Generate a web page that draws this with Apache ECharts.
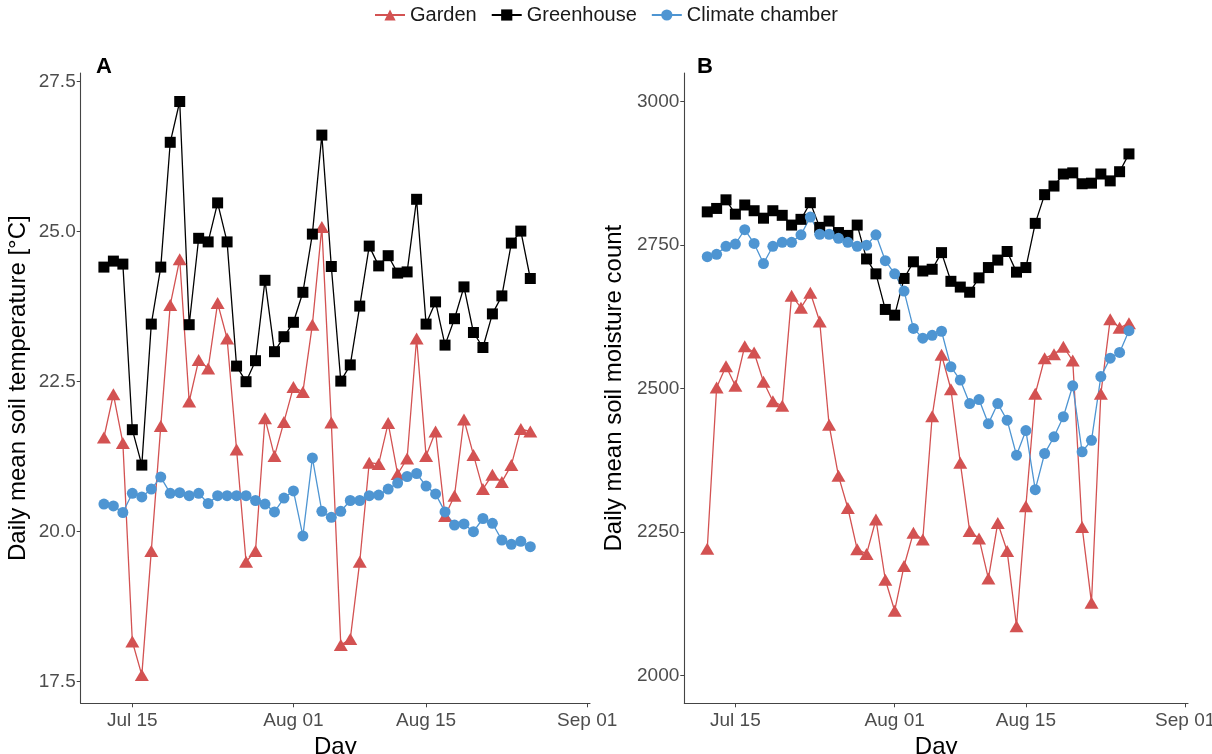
<!DOCTYPE html>
<html>
<head>
<meta charset="utf-8">
<script src="https://cdn.jsdelivr.net/npm/echarts@6/dist/echarts.min.js"></script>
<style>
  html, body { margin: 0; padding: 0; background: #fff; }
  #chart { width: 1212px; height: 754px; }
</style>
</head>
<body>
<div id="chart"></div>
<script>
// days of measurement
var dates = [
  '2021-07-12','2021-07-13','2021-07-14','2021-07-15','2021-07-16','2021-07-17','2021-07-18','2021-07-19',
  '2021-07-20','2021-07-21','2021-07-22','2021-07-23','2021-07-24','2021-07-25','2021-07-26','2021-07-27',
  '2021-07-28','2021-07-29','2021-07-30','2021-07-31','2021-08-01','2021-08-02','2021-08-03','2021-08-04',
  '2021-08-05','2021-08-06','2021-08-07','2021-08-08','2021-08-09','2021-08-10','2021-08-11','2021-08-12',
  '2021-08-13','2021-08-14','2021-08-15','2021-08-16','2021-08-17','2021-08-18','2021-08-19','2021-08-20',
  '2021-08-21','2021-08-22','2021-08-23','2021-08-24','2021-08-25','2021-08-26'
];

// A: daily mean soil temperature [°C]
var tempGarden = [
  21.57, 22.29, 21.48, 18.17, 17.61, 19.68, 21.76, 23.78, 24.54, 22.17, 22.86, 22.72, 23.81, 23.22, 21.37, 19.50,
  19.68, 21.89, 21.26, 21.83, 22.41, 22.33, 23.45, 25.08, 21.82, 18.11, 18.21, 19.50, 21.15, 21.13, 21.81, 20.96,
  21.22, 23.22, 21.26, 21.67, 20.26, 20.60, 21.87, 21.28, 20.71, 20.95, 20.83, 21.11, 21.71, 21.67
];
var tempGreenhouse = [
  24.41, 24.51, 24.46, 21.70, 21.11, 23.46, 24.41, 26.49, 27.17, 23.45, 24.89, 24.83, 25.48, 24.83, 22.76, 22.50,
  22.85, 24.19, 23.00, 23.25, 23.49, 23.99, 24.96, 26.61, 24.42, 22.51, 22.78, 23.76, 24.76, 24.43, 24.60, 24.31,
  24.33, 25.54, 23.46, 23.83, 23.11, 23.55, 24.08, 23.32, 23.07, 23.63, 23.93, 24.81, 25.01, 24.22
];
var tempChamber = [
  20.46, 20.43, 20.32, 20.64, 20.58, 20.71, 20.91, 20.64, 20.65, 20.60, 20.64, 20.47, 20.60, 20.60, 20.60, 20.60,
  20.52, 20.46, 20.33, 20.56, 20.68, 19.93, 21.23, 20.34, 20.24, 20.34, 20.52, 20.52, 20.60, 20.61, 20.71, 20.81,
  20.92, 20.97, 20.76, 20.63, 20.33, 20.11, 20.13, 20.00, 20.22, 20.14, 19.86, 19.79, 19.84, 19.75
];

// B: daily mean soil moisture count
var moistGarden = [
  2221, 2502, 2539, 2505, 2574, 2563, 2512, 2478, 2470, 2662, 2641, 2667, 2617, 2437, 2348, 2292,
  2220, 2212, 2272, 2167, 2113, 2191, 2249, 2237, 2452, 2559, 2499, 2371, 2252, 2239, 2169, 2266,
  2217, 2086, 2295, 2491, 2553, 2560, 2573, 2549, 2259, 2127, 2491, 2621, 2606, 2614
];
var moistGreenhouse = [
  2808, 2814, 2829, 2804, 2820, 2810, 2797, 2810, 2802, 2785, 2795, 2824, 2781, 2792, 2772, 2767,
  2785, 2726, 2700, 2638, 2628, 2692, 2721, 2705, 2708, 2737, 2687, 2677, 2668, 2693, 2711, 2724,
  2739, 2703, 2711, 2788, 2838, 2853, 2874, 2876, 2857, 2858, 2874, 2862, 2878, 2909
];
var moistChamber = [
  2730, 2734, 2748, 2752, 2777, 2753, 2718, 2748, 2755, 2755, 2768, 2799, 2769, 2769, 2762, 2755,
  2748, 2750, 2768, 2723, 2700, 2670, 2605, 2588, 2593, 2600, 2538, 2515, 2474, 2481, 2439, 2474,
  2445, 2384, 2427, 2324, 2387, 2416, 2451, 2505, 2390, 2410, 2521, 2553, 2563, 2601
];

var xTickDates = ['2021-07-15', '2021-08-01', '2021-08-15', '2021-09-01'];
var xTickLabels = ['Jul 15', 'Aug 01', 'Aug 15', 'Sep 01'];
var tempTicks = [17.5, 20.0, 22.5, 25.0, 27.5];
var moistTicks = [2000, 2250, 2500, 2750, 3000];

var DAY = 86400000;
var origin = Date.parse('2021-07-15');
function dayNo(d) { return Math.round((Date.parse(d) - origin) / DAY); }
var xTicks = xTickDates.map(dayNo);

function pairs(vals) {
  return vals.map(function (v, i) { return [dayNo(dates[i]), v]; });
}

var RED = '#d35252', BLACK = '#000000', BLUE = '#4e95d2';
var FONT = '"Liberation Sans", Arial, sans-serif';

function xAxis(idx) {
  return {
    type: 'value', gridIndex: idx, min: -5.45, max: 48.3,
    name: 'Day', nameLocation: 'middle', nameGap: 24,
    nameTextStyle: { fontSize: 24, color: '#000', fontFamily: FONT },
    splitLine: { show: false },
    axisLine: { onZero: false, lineStyle: { color: '#444', width: 1.1 } },
    axisTick: { customValues: xTicks, length: 4, lineStyle: { color: '#444' } },
    axisLabel: {
      customValues: xTicks, margin: 8, fontSize: 19, color: '#4d4d4d', fontFamily: FONT,
      formatter: function (v) { return xTickLabels[xTicks.indexOf(v)]; }
    }
  };
}
function yAxis(idx, name, min, max, ticks, digits, gap) {
  return {
    type: 'value', gridIndex: idx, min: min, max: max,
    name: name, nameLocation: 'middle', nameGap: gap,
    nameTextStyle: { fontSize: 24, color: '#000', fontFamily: FONT },
    splitLine: { show: false },
    axisLine: { show: true, onZero: false, lineStyle: { color: '#444', width: 1.1 } },
    axisTick: { show: true, customValues: ticks, length: 4, lineStyle: { color: '#444' } },
    axisLabel: {
      customValues: ticks, margin: 5, fontSize: 19, color: '#4d4d4d', fontFamily: FONT,
      formatter: function (v) { return v.toFixed(digits); }
    }
  };
}
function line(name, idx, vals, color, symbol, size) {
  return {
    name: name, type: 'line', xAxisIndex: idx, yAxisIndex: idx,
    data: pairs(vals), symbol: symbol, symbolSize: size, showSymbol: true,
    lineStyle: { color: color, width: 1.3 },
    itemStyle: { color: color, borderWidth: 0 },
    emphasis: { disabled: true }
  };
}

var chart = echarts.init(document.getElementById('chart'), null, { renderer: 'canvas' });
chart.setOption({
  animation: false,
  backgroundColor: '#fff',
  textStyle: { fontFamily: FONT },
  legend: {
    top: 0, left: 'center', itemWidth: 30, itemHeight: 14, itemGap: 14,
    textStyle: { fontSize: 20, color: '#1a1a1a', fontFamily: FONT },
    data: ['Garden', 'Greenhouse', 'Climate chamber']
  },
  title: [
    { text: 'A', left: 91, top: 51, textStyle: { fontSize: 22, fontWeight: 'bold', color: '#000', fontFamily: FONT } },
    { text: 'B', left: 692, top: 51, textStyle: { fontSize: 22, fontWeight: 'bold', color: '#000', fontFamily: FONT } }
  ],
  grid: [
    { left: 80.7, top: 73, width: 509.3, height: 630.3, outerBoundsMode: 'none', containLabel: false },
    { left: 684.3, top: 73, width: 503.7, height: 630.3, outerBoundsMode: 'none', containLabel: false }
  ],
  xAxis: [xAxis(0), xAxis(1)],
  yAxis: [
    yAxis(0, 'Daily mean soil temperature [°C]', 17.14, 27.645, tempTicks, 1, 50),
    yAxis(1, 'Daily mean soil moisture count', 1951.7, 3050, moistTicks, 0, 58)
  ],
  series: [
    line('Garden', 0, tempGarden, RED, 'triangle', [14, 12]),
    line('Greenhouse', 0, tempGreenhouse, BLACK, 'rect', 11),
    line('Climate chamber', 0, tempChamber, BLUE, 'circle', 11),
    line('Garden', 1, moistGarden, RED, 'triangle', [14, 12]),
    line('Greenhouse', 1, moistGreenhouse, BLACK, 'rect', 11),
    line('Climate chamber', 1, moistChamber, BLUE, 'circle', 11)
  ]
});
</script>
</body>
</html>
